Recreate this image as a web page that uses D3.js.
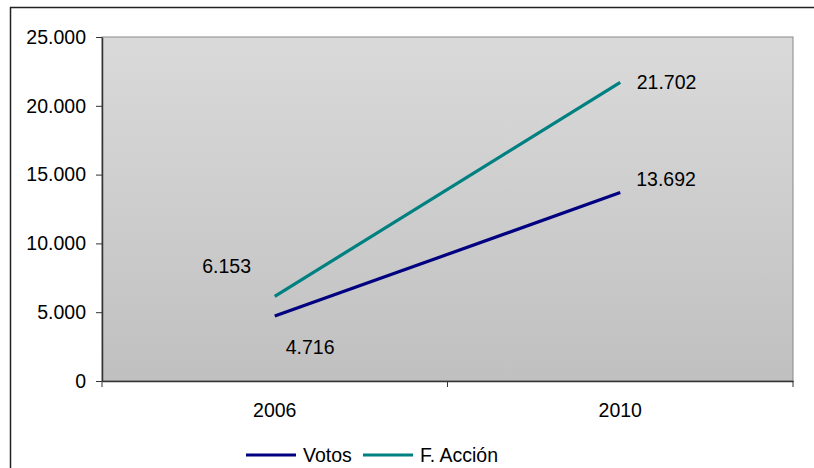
<!DOCTYPE html>
<html>
<head>
<meta charset="utf-8">
<script src="https://cdn.jsdelivr.net/npm/d3@7"></script>
<style>
  body { margin: 0; background: #fff; }
  svg { display: block; font-family: 'Liberation Sans', Arial, sans-serif; }
</style>
</head>
<body>
<div id="chart"></div>
<script>
// data
const years = ['2006', '2010']
const votos = [4716, 13692]
const accion = [6153, 21702]
const yTicks = [0, 5000, 10000, 15000, 20000, 25000]
const seriesNames = ['Votos', 'F. Acción']

const width = 814, height = 468
const margin = {top: 37, right: 21, bottom: 87, left: 102}
const chartWidth = width - margin.left - margin.right
const chartHeight = height - margin.top - margin.bottom
const fontSize = '19.5px'

const fmt = d3.format(',')
const fmtEs = v => fmt(v).replace(/,/g, '.')

const x = d3.scaleBand().domain(years).range([0, chartWidth])
const y = d3.scaleLinear().domain([0, 25000]).range([chartHeight, 0])

const svg = d3.select('#chart').append('svg')
  .attr('width', width)
  .attr('height', height)

// outer frame (runs off the right/bottom edges)
svg.append('rect')
  .attr('x', 10.5).attr('y', 7.5)
  .attr('width', width + 20).attr('height', height + 20)
  .attr('fill', 'none').attr('stroke', '#222').attr('stroke-width', 1.5)

const defs = svg.append('defs')
const grad = defs.append('linearGradient')
  .attr('id', 'bg').attr('x1', 0).attr('y1', 0).attr('x2', 0).attr('y2', 1)
grad.append('stop').attr('offset', '0%').attr('stop-color', '#dadada')
grad.append('stop').attr('offset', '100%').attr('stop-color', '#c0c0c0')

const g = svg.append('g')
  .attr('transform', 'translate(' + margin.left + ',' + margin.top + ')')

g.append('rect')
  .attr('width', chartWidth).attr('height', chartHeight)
  .attr('fill', 'url(#bg)')
  .attr('stroke', '#888').attr('stroke-width', 1)

// y axis
const yAxis = g.append('g')
  .call(d3.axisLeft(y).tickValues(yTicks).tickFormat(fmtEs).tickSize(6).tickSizeOuter(0))
yAxis.select('.domain').attr('stroke', '#333').attr('stroke-width', 1.5)
yAxis.selectAll('line').attr('stroke', '#333')
yAxis.selectAll('text')
  .attr('x', -16)
  .style('font-size', fontSize)
  .style('font-family', "'Liberation Sans', Arial, sans-serif")
  .attr('fill', '#000')

// x axis, ticks on band boundaries
const xAxis = g.append('g')
  .attr('transform', 'translate(0,' + chartHeight + ')')
  .call(d3.axisBottom(x).tickSize(0).tickSizeOuter(0))
xAxis.select('.domain').attr('stroke', '#333').attr('stroke-width', 1.5)
xAxis.selectAll('text')
  .attr('y', 22)
  .style('font-size', fontSize)
  .style('font-family', "'Liberation Sans', Arial, sans-serif")
  .attr('fill', '#000')
const bounds = [0].concat(years.map(d => x(d) + x.bandwidth()))
xAxis.selectAll('line.bound')
  .data(bounds)
  .enter().append('line')
  .attr('class', 'bound')
  .attr('x1', d => d).attr('x2', d => d)
  .attr('y1', 0).attr('y2', 6)
  .attr('stroke', '#333')

const series = [
  {name: seriesNames[0], values: votos, color: '#000080'},
  {name: seriesNames[1], values: accion, color: '#008080'}
]

const line = d3.line()
  .x((d, i) => x(years[i]) + x.bandwidth() / 2)
  .y(d => y(d))

g.selectAll('path.series')
  .data(series)
  .enter().append('path')
  .attr('class', 'series')
  .attr('d', d => line(d.values))
  .attr('fill', 'none')
  .attr('stroke', d => d.color)
  .attr('stroke-width', 3.2)

// value labels
const labelOffsets = [
  [[11, 38], [16, -6.5]],
  [[-72.5, -23], [16.5, 6.5]]
]
series.forEach(function(s, si){
  g.selectAll('text.lbl' + si)
    .data(s.values)
    .enter().append('text')
    .attr('class', 'lbl' + si)
    .attr('x', (d, i) => x(years[i]) + x.bandwidth() / 2 + labelOffsets[si][i][0])
    .attr('y', (d, i) => y(d) + labelOffsets[si][i][1])
    .style('font-size', fontSize)
    .attr('fill', '#000')
    .text(fmtEs)
})

// legend
const legend = svg.append('g').attr('transform', 'translate(246,455)')
const legendX = [0, 117]
series.forEach(function(s, i){
  const item = legend.append('g').attr('transform', 'translate(' + legendX[i] + ',0)')
  item.append('line')
    .attr('x1', 0).attr('x2', 50).attr('y1', 0).attr('y2', 0)
    .attr('stroke', s.color).attr('stroke-width', 3.2)
  item.append('text')
    .attr('x', 57).attr('y', 6.5)
    .style('font-size', fontSize)
    .attr('fill', '#000')
    .text(s.name)
})
</script>
</body>
</html>
